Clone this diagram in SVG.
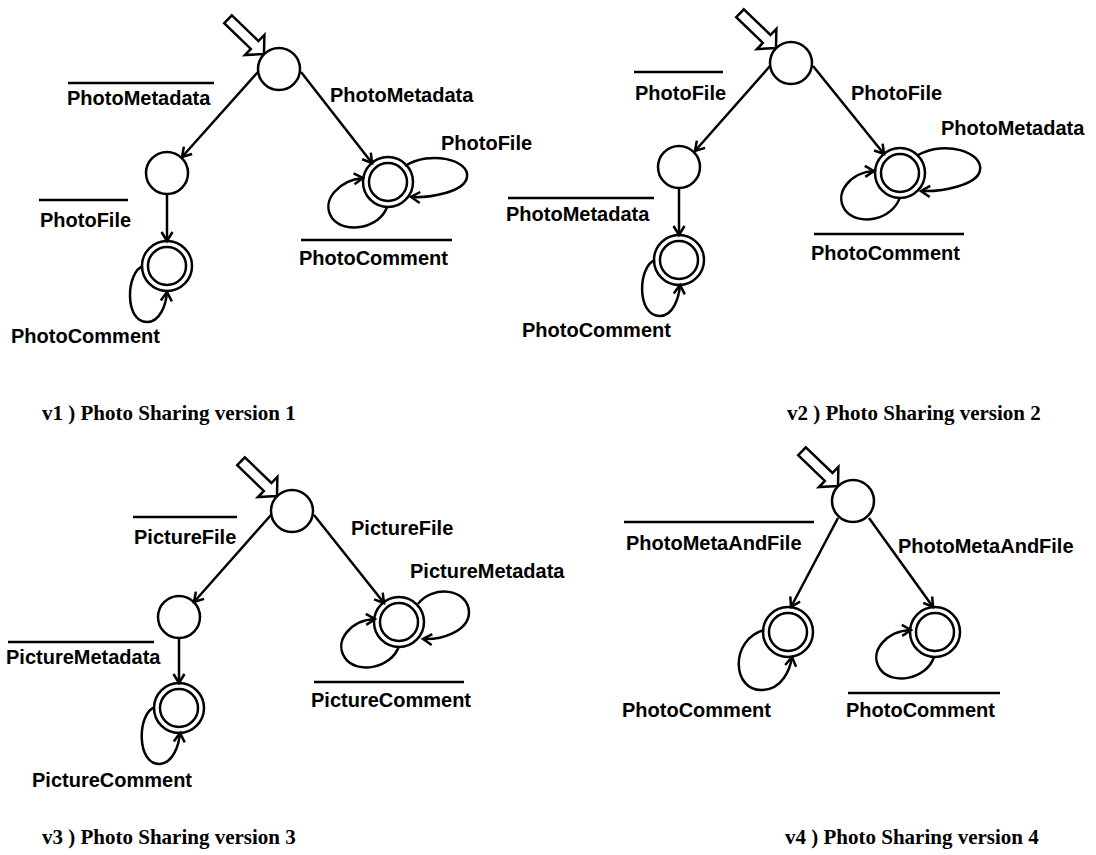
<svg xmlns="http://www.w3.org/2000/svg" width="1096" height="855" viewBox="0 0 1096 855">
<style>
.st{fill:#fff;stroke:#000;stroke-width:2.5}
.acc{fill:none;stroke:#000;stroke-width:2.5}
.e{fill:none;stroke:#000;stroke-width:2.5;marker-end:url(#ah)}
.ov{stroke:#000;stroke-width:2.5}
.start{fill:#fff;stroke:#000;stroke-width:2.5;stroke-linejoin:miter}
.lb{font-family:"Liberation Sans",Arial,sans-serif;font-weight:bold;font-size:20px;fill:#000}
.cap{font-family:"Liberation Serif","Times New Roman",serif;font-weight:bold;font-size:21px;fill:#000}
</style>
<defs>
<marker id="ah" markerWidth="14" markerHeight="14" refX="12" refY="7" orient="auto" markerUnits="userSpaceOnUse" overflow="visible">
<path d="M3,1.5 L12,7 L3,12.5" fill="none" stroke="#000" stroke-width="2.5"/>
</marker>
<polygon id="startArrow" points="-50,-5.5 -13,-5.5 -13,-14 0,0 -13,14 -13,5.5 -50,5.5"/>
</defs>
<rect width="1096" height="855" fill="#fff"/>

<!-- v1 -->
<g id="v1_s0"><use href="#startArrow" class="start" transform="translate(264,54) rotate(44)"/><circle class="st" cx="279" cy="69" r="21"/></g>
<g id="v1_q1"><circle class="st" cx="167" cy="173" r="21"/></g>
<g id="v1_a1"><circle class="st" cx="167" cy="266" r="25"/><circle class="acc" cx="167" cy="266" r="19"/></g>
<g id="v1_a2"><circle class="st" cx="388" cy="182" r="25"/><circle class="acc" cx="388" cy="182" r="19"/></g>

<!-- v2 -->
<g id="v2_s0"><use href="#startArrow" class="start" transform="translate(776,48) rotate(44)"/><circle class="st" cx="791" cy="63" r="21"/></g>
<g id="v2_q1"><circle class="st" cx="679" cy="167" r="21"/></g>
<g id="v2_a1"><circle class="st" cx="679" cy="260" r="25"/><circle class="acc" cx="679" cy="260" r="19"/></g>
<g id="v2_a2"><circle class="st" cx="900" cy="173" r="25"/><circle class="acc" cx="900" cy="173" r="19"/></g>

<!-- v3 -->
<g id="v3_s0"><use href="#startArrow" class="start" transform="translate(277,496) rotate(44)"/><circle class="st" cx="292" cy="511" r="21"/></g>
<g id="v3_q1"><circle class="st" cx="179" cy="617" r="21"/></g>
<g id="v3_a1"><circle class="st" cx="179" cy="708" r="25"/><circle class="acc" cx="179" cy="708" r="19"/></g>
<g id="v3_a2"><circle class="st" cx="399" cy="622" r="25"/><circle class="acc" cx="399" cy="622" r="19"/></g>

<!-- v4 -->
<g id="v4_s0"><use href="#startArrow" class="start" transform="translate(838,486) rotate(44)"/><circle class="st" cx="853" cy="501" r="21"/></g>
<g id="v4_a1"><circle class="st" cx="788" cy="632" r="25"/><circle class="acc" cx="788" cy="632" r="19"/></g>
<g id="v4_a2"><circle class="st" cx="935" cy="632" r="25"/><circle class="acc" cx="935" cy="632" r="19"/></g>

<g id="connectors">
<!-- v1 -->
<path class="e" d="M258,72 L182,157"/>
<path class="e" d="M301,72 L372,163"/>
<path class="e" d="M167,194 L167,241"/>
<path class="e" d="M143,266 C126,272 124,322 147,322 C160,322 166,305 167,292"/>
<path class="e" d="M405,166 C430,150 470,160 467,177 C465,192 430,198 411,197"/>
<path class="e" d="M387,207 C380,228 345,235 332,218 C320,200 340,180 363,178"/>
<!-- v2 -->
<path class="e" d="M770,66 L695,151"/>
<path class="e" d="M813,66 L884,154"/>
<path class="e" d="M679,188 L679,235"/>
<path class="e" d="M655,260 C638,266 636,316 660,316 C673,316 679,298 680,285"/>
<path class="e" d="M918,155 C945,140 983,152 980,170 C978,185 942,192 921,191"/>
<path class="e" d="M900,197 C893,220 858,227 845,210 C833,192 852,172 874,171"/>
<!-- v3 -->
<path class="e" d="M271,515 L194,602"/>
<path class="e" d="M314,515 L384,603"/>
<path class="e" d="M179,638 L179,683"/>
<path class="e" d="M155,707 C137,713 136,765 160,764 C173,763 179,745 180,733"/>
<path class="e" d="M418,604 C432,585 468,588 469,612 C469,632 440,640 423,639"/>
<path class="e" d="M399,646 C392,668 357,675 345,658 C333,640 352,620 375,619"/>
<!-- v4 -->
<path class="e" d="M838,518 L791,607"/>
<path class="e" d="M869,518 L933,607"/>
<path class="e" d="M764,630 C729,640 732,692 763,690 C782,689 790,670 792,657"/>
<path class="e" d="M934,657 C927,679 892,686 880,669 C868,651 887,631 911,630"/>
</g>

<g id="labels">
<!-- v1 -->
<line class="ov" x1="68" y1="83" x2="214" y2="83"/>
<text class="lb" x="67" y="105">PhotoMetadata</text>
<text class="lb" x="330" y="102">PhotoMetadata</text>
<text class="lb" x="441" y="150">PhotoFile</text>
<line class="ov" x1="39" y1="200" x2="128" y2="200"/>
<text class="lb" x="40" y="227">PhotoFile</text>
<text class="lb" x="11" y="343">PhotoComment</text>
<line class="ov" x1="301" y1="240" x2="452" y2="240"/>
<text class="lb" x="299" y="265">PhotoComment</text>
<!-- v2 -->
<line class="ov" x1="634" y1="72" x2="723" y2="72"/>
<text class="lb" x="635" y="100">PhotoFile</text>
<text class="lb" x="851" y="100">PhotoFile</text>
<text class="lb" x="941" y="135">PhotoMetadata</text>
<line class="ov" x1="508" y1="198" x2="654" y2="198"/>
<text class="lb" x="506" y="221">PhotoMetadata</text>
<text class="lb" x="522" y="337">PhotoComment</text>
<line class="ov" x1="814" y1="234" x2="964" y2="234"/>
<text class="lb" x="811" y="260">PhotoComment</text>
<!-- v3 -->
<line class="ov" x1="133" y1="517" x2="237" y2="517"/>
<text class="lb" x="134" y="544">PictureFile</text>
<text class="lb" x="351" y="535">PictureFile</text>
<text class="lb" x="410" y="578">PictureMetadata</text>
<line class="ov" x1="8" y1="642" x2="154" y2="642"/>
<text class="lb" x="6" y="664">PictureMetadata</text>
<text class="lb" x="32" y="787">PictureComment</text>
<line class="ov" x1="314" y1="682" x2="464" y2="682"/>
<text class="lb" x="311" y="707">PictureComment</text>
<!-- v4 -->
<line class="ov" x1="624" y1="522" x2="814" y2="522"/>
<text class="lb" x="626" y="550">PhotoMetaAndFile</text>
<text class="lb" x="898" y="553">PhotoMetaAndFile</text>
<text class="lb" x="622" y="717">PhotoComment</text>
<line class="ov" x1="848" y1="693" x2="1000" y2="693"/>
<text class="lb" x="846" y="717">PhotoComment</text>
</g>

<g id="captions">
<text class="cap" x="42" y="420">v1 ) Photo Sharing version 1</text>
<text class="cap" x="787" y="420">v2 ) Photo Sharing version 2</text>
<text class="cap" x="42" y="844">v3 ) Photo Sharing version 3</text>
<text class="cap" x="785" y="844">v4 ) Photo Sharing version 4</text>
</g>
</svg>
